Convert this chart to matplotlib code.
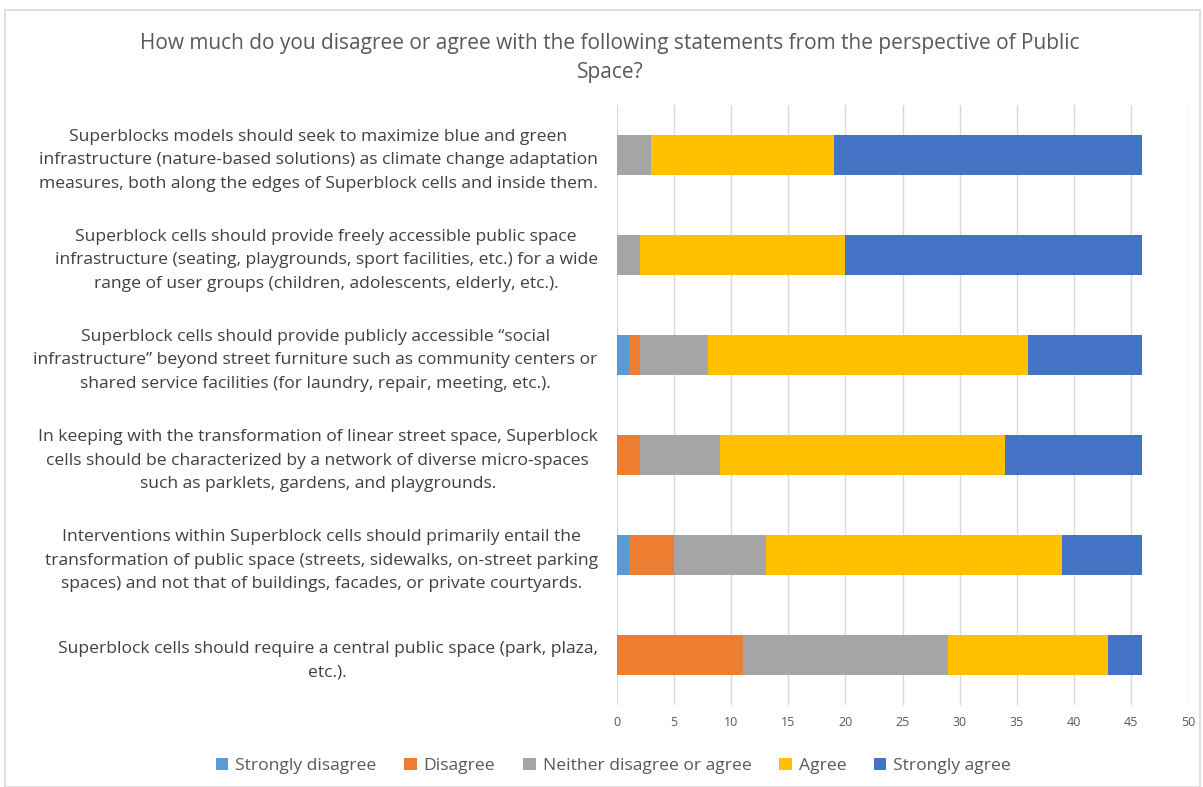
import numpy as np
import matplotlib.pyplot as plt
from matplotlib.patches import Rectangle

# Survey statements (top to bottom) and response counts
statements = [
    "Superblocks models should seek to maximize blue and green\ninfrastructure (nature-based solutions) as climate change adaptation\nmeasures, both along the edges of Superblock cells and inside them.",
    "Superblock cells should provide freely accessible public space\ninfrastructure (seating, playgrounds, sport facilities, etc.) for a wide\nrange of user groups (children, adolescents, elderly, etc.).",
    "Superblock cells should provide publicly accessible \u201csocial\ninfrastructure\u201d beyond street furniture such as community centers or\nshared service facilities (for laundry, repair, meeting, etc.).",
    "In keeping with the transformation of linear street space, Superblock\ncells should be characterized by a network of diverse micro-spaces\nsuch as parklets, gardens, and playgrounds.",
    "Interventions within Superblock cells should primarily entail the\ntransformation of public space (streets, sidewalks, on-street parking\nspaces) and not that of buildings, facades, or private courtyards.",
    "Superblock cells should require a central public space (park, plaza,\netc.).",
]
responses = ["Strongly disagree", "Disagree", "Neither disagree or agree", "Agree", "Strongly agree"]
strongly_disagree = [0, 0, 1, 0, 1, 0]
disagree = [0, 0, 1, 2, 4, 11]
neither = [3, 2, 6, 7, 8, 18]
agree = [16, 18, 28, 25, 26, 14]
strongly_agree = [27, 26, 10, 12, 7, 3]

colors = ["#5B9BD5", "#ED7D31", "#A5A5A5", "#FFC000", "#4472C4"]
series = [strongly_disagree, disagree, neither, agree, strongly_agree]

plt.rcParams['font.family'] = ['Open Sans', 'DejaVu Sans']

fig = plt.figure(figsize=(12.03, 7.87), dpi=100)
ax = fig.add_axes([0.513, 0.104, 0.9875 - 0.513, 0.867 - 0.104])

y = np.arange(len(statements))
left = np.zeros(len(statements))
for vals, col, name in zip(series, colors, responses):
    vals = np.array(vals, dtype=float)
    ax.barh(y, vals, left=left, height=0.4, color=col, label=name, zorder=3)
    left += vals

ax.set_ylim(len(statements) - 0.5, -0.5)
ax.set_xlim(0, 50)
ax.set_xticks(np.arange(0, 51, 5))
ax.set_yticks(y)
ax.set_yticklabels(statements, multialignment='center', fontsize=12.6,
                   color='#404040', linespacing=1.6)
ax.tick_params(axis='y', length=0, pad=14)
ax.tick_params(axis='x', length=0, labelsize=9, labelcolor='#595959', pad=8)
ax.grid(axis='x', color='#D9D9D9', linewidth=1, zorder=0)
for s in ax.spines.values():
    s.set_visible(False)

fig.suptitle("How much do you disagree or agree with the following statements from the perspective of Public\nSpace?",
             x=0.507, y=0.958, fontsize=15, color='#595959', linespacing=1.5)

fig.legend(loc='center', bbox_to_anchor=(0.51, 1 - 766 / 787), ncol=5, frameon=False,
           fontsize=12.6, handlelength=0.7, handleheight=0.7, handletextpad=0.4,
           columnspacing=1.6, labelcolor='#595959')

fig.patches.append(Rectangle((5 / 1203, 0), 1195 / 1203, 1 - 10 / 787, transform=fig.transFigure,
                             fill=False, edgecolor='#D9D9D9', linewidth=1.2))

plt.savefig("out.png", dpi=100)
